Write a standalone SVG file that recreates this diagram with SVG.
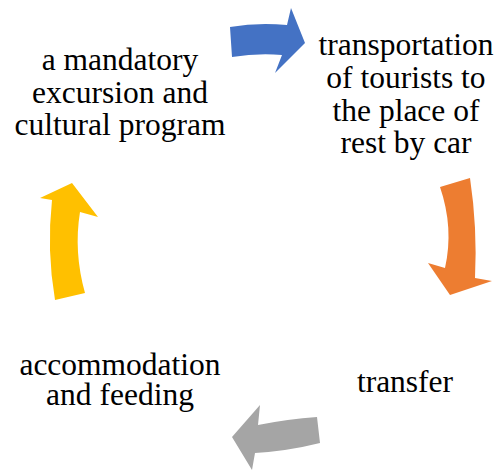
<svg xmlns="http://www.w3.org/2000/svg" width="498" height="470" viewBox="0 0 498 470">
<style>
text{font-family:"Liberation Serif",serif;font-size:31.5px;fill:#000;text-anchor:middle}
</style>
<rect width="498" height="470" fill="#fff"/>
<g id="connectors">
<path id="arrow-blue" d="M230,27 Q258,22 287,25 L291,8 L305,43 L275,73 L282,55 Q257,53 232,57 Z" fill="#4472C4"/>
<path id="arrow-orange" d="M440,187 Q454,228 445,268 L428,263 L450,295 L492,281 L475,278 Q477.5,228 470,178 Z" fill="#ED7D31"/>
<path id="arrow-gray" d="M317,417 Q288,419 258,425 L260,405 L232,437 L252,470 L255,453 Q288,451 320,443 Z" fill="#A5A5A5"/>
<path id="arrow-yellow" d="M55,300 Q46.5,250 52,200 L40,198 L72,183 L98,217 L80,212 Q73.5,252 85,293 Z" fill="#FFC000"/>
</g>
<g id="node-transport">
<text x="406" y="55" style="font-family:'Liberation Serif',serif">transportation</text>
<text x="406" y="88" style="font-family:'Liberation Serif',serif">of tourists to</text>
<text x="406" y="121" style="font-family:'Liberation Serif',serif">the place of</text>
<text x="406" y="153" style="font-family:'Liberation Serif',serif">rest by car</text>
</g>
<g id="node-transfer">
<text x="405" y="392" style="font-family:'Liberation Serif',serif">transfer</text>
</g>
<g id="node-accommodation">
<text x="120" y="375" style="font-family:'Liberation Serif',serif">accommodation</text>
<text x="120" y="405" style="font-family:'Liberation Serif',serif">and feeding</text>
</g>
<g id="node-excursion">
<text x="120" y="70" style="font-family:'Liberation Serif',serif">a mandatory</text>
<text x="120" y="103" style="font-family:'Liberation Serif',serif">excursion and</text>
<text x="120" y="135" style="font-family:'Liberation Serif',serif">cultural program</text>
</g>
</svg>
